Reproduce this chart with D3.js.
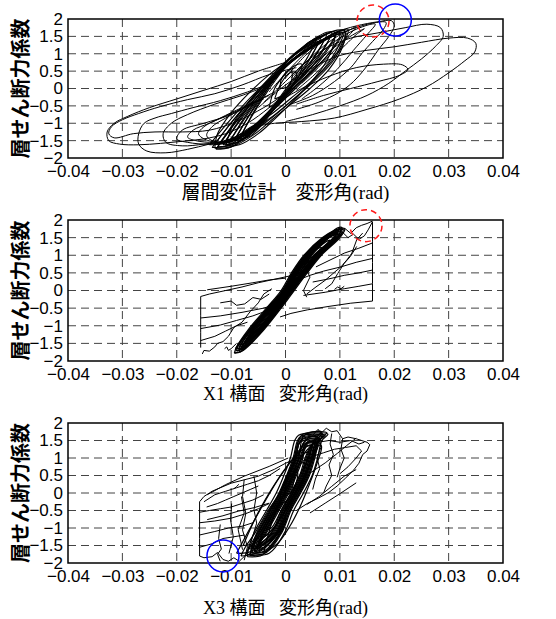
<!DOCTYPE html>
<html>
<head>
<meta charset="utf-8">
<script src="https://cdn.jsdelivr.net/npm/d3@7"></script>
<style>
body { margin: 0; background: #fff; }
svg { display: block; }
.tick text { font-family: "Liberation Sans", Arial, sans-serif; font-size: 17px; fill: #000; }
</style>
</head>
<body>
<svg id="chart" width="556" height="619"></svg>
<script>
var width = 556;
var height = 619;

// axis ticks (rad / coefficient)
var xTicks = [-0.04, -0.03, -0.02, -0.01, 0, 0.01, 0.02, 0.03, 0.04];
var xTickLabels = ['\u22120.04', '\u22120.03', '\u22120.02', '\u22120.01', '0', '0.01', '0.02', '0.03', '0.04'];
var yTicks = [2, 1.5, 1, 0.5, 0, -0.5, -1, -1.5, -2];
var yTickLabels = ['2', '1.5', '1', '0.5', '0', '\u22120.5', '\u22121', '\u22121.5', '\u22122'];
var yTitle = '層せん断力係数';
var xTitles = ['層間変位計\u3000変形角(rad)', 'X1 構面 \u2002変形角(rad)', 'X3 構面 \u2002変形角(rad)'];

/****************************
 * loops, x in 1/1000 rad
 ****************************/
// panel 1 : 層間変位計
var p1Core = [
	[[-13.5,-1.7],[-10.5,-1.63],[-6.5,-1.22],[-2.2,-0.78],[1.5,-0.3],[5.2,0.2],[9,0.85],[11.5,1.7],[9.8,1.63],[6.5,1.36],[2,0.92],[-2.2,0.34],[-6,-0.27],[-9.8,-0.95],[-13.5,-1.7]],
	[[-13,-1.6],[-10.2,-1.54],[-6.4,-1.15],[-2.4,-0.57],[1.1,-0.05],[4.6,0.46],[8.2,1.04],[10.5,1.62],[8.9,1.56],[5.8,1.3],[1.6,0.88],[-2.4,0.33],[-6,-0.25],[-9.5,-0.89],[-13,-1.6]],
	[[-12.5,-1.68],[-9.8,-1.62],[-6.2,-1.23],[-2.4,-0.65],[1,-0.13],[4.4,0.39],[7.8,0.97],[10,1.55],[8.4,1.49],[5.5,1.23],[1.5,0.81],[-2.4,0.26],[-5.7,-0.32],[-9.1,-0.97],[-12.5,-1.68]],
	[[-12,-1.55],[-9.4,-1.49],[-6,-1.1],[-2.3,-0.53],[0.9,-0.01],[4.1,0.5],[7.3,1.07],[9.5,1.65],[8,1.59],[5.2,1.33],[1.3,0.91],[-2.3,0.37],[-5.5,-0.21],[-8.8,-0.85],[-12,-1.55]],
	[[-11.5,-1.62],[-9,-1.56],[-5.8,-1.18],[-2.3,-0.62],[0.8,-0.12],[3.9,0.38],[7,0.94],[9,1.5],[7.6,1.44],[4.9,1.19],[1.2,0.78],[-2.3,0.25],[-5.3,-0.31],[-8.4,-0.93],[-11.5,-1.62]],
	[[-11,-1.5],[-8.7,-1.44],[-5.5,-1.07],[-2.2,-0.51],[0.7,-0.01],[3.6,0.48],[6.5,1.04],[8.5,1.6],[7.1,1.54],[4.6,1.29],[1.1,0.89],[-2.2,0.36],[-5.1,-0.2],[-8.1,-0.82],[-11,-1.5]],
	[[-10.5,-1.58],[-8.3,-1.52],[-5.3,-1.16],[-2.2,-0.61],[0.6,-0.13],[3.4,0.36],[6.1,0.9],[8,1.45],[6.7,1.39],[4.3,1.15],[1,0.75],[-2.2,0.24],[-5,-0.31],[-7.7,-0.91],[-10.5,-1.58]],
	[[-10,-1.45],[-7.9,-1.39],[-5.1,-1.03],[-2.1,-0.49],[0.5,-0.01],[3.1,0.47],[5.7,1.01],[7.5,1.55],[6.3,1.49],[4,1.25],[0.8,0.86],[-2.1,0.35],[-4.7,-0.19],[-7.4,-0.79],[-10,-1.45]],
	[[-9.5,-1.5],[-7.5,-1.44],[-4.9,-1.09],[-2.1,-0.57],[0.4,-0.11],[2.9,0.36],[5.3,0.88],[7,1.4],[5.8,1.34],[3.7,1.11],[0.7,0.73],[-2.1,0.24],[-4.5,-0.28],[-7,-0.86],[-9.5,-1.5]],
	[[-9,-1.4],[-7.1,-1.34],[-4.7,-0.99],[-2,-0.47],[0.3,-0.01],[2.6,0.46],[4.9,0.98],[6.5,1.5],[5.4,1.44],[3.4,1.21],[0.6,0.83],[-2,0.34],[-4.3,-0.18],[-6.7,-0.76],[-9,-1.4]],
	[[-8.5,-1.45],[-6.7,-1.39],[-4.4,-1.06],[-1.9,-0.55],[0.2,-0.11],[2.4,0.34],[4.5,0.85],[6,1.35],[5,1.29],[3.1,1.07],[0.5,0.71],[-1.9,0.23],[-4.1,-0.27],[-6.3,-0.83],[-8.5,-1.45]],
	[[-8,-1.3],[-6.4,-1.25],[-4.2,-0.92],[-1.9,-0.44],[0.1,0],[2.1,0.43],[4.1,0.91],[5.5,1.4],[4.5,1.35],[2.8,1.13],[0.3,0.78],[-1.9,0.32],[-3.9,-0.17],[-6,-0.71],[-8,-1.3]],
	[[-14,-1.62],[-11,-1.56],[-7,-1.17],[-2.7,-0.75],[1,-0.28],[4.7,0.2],[8.5,0.8],[11,1.6],[9.2,1.54],[6,1.28],[1.5,0.86],[-2.7,0.31],[-6.5,-0.27],[-10.2,-0.91],[-14,-1.62]],
	[[-12.8,-1.75],[-10,-1.68],[-6.2,-1.27],[-2.2,-0.8],[1.4,-0.32],[4.9,0.2],[8.4,0.85],[10.8,1.68],[9.2,1.61],[6.1,1.34],[1.8,0.89],[-2.2,0.31],[-5.7,-0.31],[-9.3,-0.99],[-12.8,-1.75]],
	[[-13,-1.72],[-10,-1.68],[-6,-1.35],[-2.5,-0.9],[1,-0.45],[4.5,0.0],[8,0.55],[10.5,1.2],[11,1.65],[9.5,1.68],[6.5,1.5],[3,1.15],[0,0.75],[-3,0.4],[-6.5,-0.1],[-10,-0.7],[-12.5,-1.3],[-13,-1.72]],
	[[-11,-1.65],[-8.5,-1.62],[-5,-1.3],[-1.8,-0.85],[1.5,-0.35],[4.5,0.15],[7.2,0.7],[8.8,1.25],[9,1.62],[7.6,1.62],[5,1.4],[2,1.05],[-0.8,0.65],[-3.6,0.2],[-6.6,-0.35],[-9.4,-0.95],[-11,-1.65]],
	[[-3,-0.55],[-1,-0.35],[1,0.0],[2.6,0.4],[3,0.7],[1.6,0.65],[-0.4,0.35],[-2,0.0],[-3,-0.55]],
	[[-2,-0.3],[0,-0.15],[1.5,0.15],[2,0.45],[0.8,0.45],[-0.8,0.15],[-2,-0.3]],
	[[-1,0.0],[0.4,0.05],[1.2,0.3],[1,0.55],[0,0.45],[-0.8,0.25],[-1,0.0]]
];
var p1Fan = [
	[[-4,-0.3],[-9,-0.65],[-14,-1.0],[-17,-1.2],[-18,-1.4],[-16.5,-1.5],[-13,-1.55],[-9,-1.45],[-5,-1.0],[-2,-0.55]],
	[[-3,-0.2],[-8,-0.55],[-12,-0.85],[-15,-1.1],[-16,-1.3],[-15,-1.45],[-12,-1.55],[-8,-1.35],[-4,-0.85]],
	[[-2,-0.1],[-7,-0.5],[-11,-0.85],[-13.5,-1.1],[-14.5,-1.35],[-13.5,-1.5],[-10.5,-1.55],[-7,-1.3],[-3.5,-0.75]],
	[[-5,-0.35],[-10,-0.75],[-15,-1.0],[-19,-1.2],[-20,-1.45],[-18,-1.55],[-14,-1.6],[-10,-1.5],[-6,-1.1]],
	[[2,0.2],[6,0.8],[10,1.3],[13,1.6],[14.5,1.72],[13,1.55],[11,1.25],[8,0.8],[5,0.35],[2,-0.05]],
	[[1,0.3],[5,0.95],[9,1.45],[12,1.7],[13,1.78],[11.5,1.5],[9,1.1],[6,0.6],[3,0.15]],
	[[3,0.5],[7,1.1],[11,1.55],[15,1.82],[16.5,1.85],[15,1.55],[12.5,1.1],[9.5,0.55],[6,0.05],[3,-0.3]]
];
var p1Big = [
	[[2,0.6],[-3,0.4],[-8,0.1],[-13,-0.15],[-18,-0.32],[-23,-0.52],[-27,-0.72],[-30,-0.9],[-32,-1.1],[-32.5,-1.3],[-31.5,-1.42],[-28,-1.3],[-24,-1.25],[-19,-1.25],[-14,-1.2],[-9,-0.95],[-4,-0.55],[0,-0.15]],
	[[0,0.75],[-5,0.5],[-10,0.2],[-15,-0.05],[-20,-0.3],[-25,-0.55],[-29,-0.8],[-31.5,-1.0],[-32.8,-1.25],[-32.5,-1.5],[-30.5,-1.6],[-27,-1.62],[-23,-1.58],[-19,-1.52],[-15,-1.45],[-11,-1.3],[-7,-1.0],[-3,-0.55],[1,0]],
	[[-2,0.2],[-7,-0.1],[-12,-0.35],[-17,-0.55],[-21,-0.72],[-24,-0.85],[-26,-1.0],[-27,-1.3],[-27,-1.6],[-25.5,-1.8],[-22,-1.85],[-18,-1.75],[-14,-1.6],[-10,-1.45],[-6,-1.1],[-2,-0.6]],
	[[-3,0.1],[-8,-0.2],[-13,-0.45],[-18,-0.75],[-21,-1.0],[-22.5,-1.3],[-22,-1.55],[-19,-1.65],[-15,-1.6],[-11,-1.5],[-7,-1.2],[-3,-0.7]],
	[[-5,-0.55],[0,0.1],[5,0.6],[10,0.95],[15,1.1],[20,1.2],[25,1.33],[30,1.45],[33.5,1.45],[35,1.3],[34.8,1.05],[33,0.8],[30,0.45],[26,0.05],[21,-0.3],[15,-0.6],[9,-0.85],[3,-0.95],[-2,-1.0],[-6,-1.1]],
	[[-4,-0.4],[0,0.2],[4,0.8],[8,1.2],[12,1.45],[17,1.6],[22,1.75],[26,1.85],[28.5,1.75],[29,1.5],[27.5,1.2],[25,0.85],[22,0.5],[19,0.15],[15,-0.2],[10,-0.5],[5,-0.75],[0,-0.95]],
	[[-3,-0.1],[1,0.6],[5,1.2],[9,1.6],[13,1.8],[17,1.92],[19.5,1.95],[20,1.8],[19,1.5],[17,1.1],[15,0.65],[12.5,0.2],[10,-0.1],[6,-0.4],[2,-0.6]],
	[[0,0.3],[4,1.0],[8,1.45],[12,1.7],[16,1.88],[18.5,1.9],[18,1.7],[16,1.35],[14,1.0],[12,0.6],[9,0.2],[5,-0.2],[1,-0.45]],
	[[-2,-0.45],[3,0.0],[8,0.35],[13,0.6],[18,0.7],[21.5,0.68],[22.5,0.55],[21,0.38],[17,0.2],[12,0.0],[7,-0.2],[2,-0.45]]
];

// panel 2 : X1 構面
var p2Core = [
	[[-9,-1.72],[-7.2,-1.6],[-4.1,-1.1],[-1,-0.5],[1.4,0],[3.8,0.5],[6.4,1.0],[9.8,1.5],[10.6,1.72],[9.4,1.72],[7,1.5],[3.6,1.0],[1.3,0.5],[-0.6,0],[-3.3,-0.5],[-6.6,-1.1],[-8.8,-1.6],[-9,-1.72]],
	[[-8.6,-1.68],[-7.4,-1.6],[-4.4,-1.1],[-1.3,-0.5],[1.1,0],[3.5,0.5],[6.1,1.0],[9.5,1.5],[10.2,1.7],[9.2,1.68],[7.3,1.5],[3.9,1.0],[1.6,0.5],[-0.3,0],[-3,-0.5],[-6.3,-1.1],[-8.5,-1.6],[-8.6,-1.68]],
	[[-8.2,-1.62],[-7.6,-1.58],[-4.7,-1.1],[-1.6,-0.5],[0.8,0],[3.2,0.5],[5.8,1.0],[9.2,1.5],[9.6,1.62],[8.8,1.6],[7.6,1.5],[4.2,1.0],[1.9,0.5],[0,0],[-2.7,-0.5],[-6,-1.1],[-8.2,-1.62]],
	[[-7.6,-1.5],[-7.2,-1.45],[-5,-1.1],[-1.9,-0.5],[0.5,0],[2.9,0.5],[5.5,1.0],[8.6,1.45],[9,1.55],[8.2,1.52],[4.5,1.0],[2.2,0.5],[0.3,0],[-2.4,-0.5],[-5.7,-1.1],[-7.6,-1.5]],
	[[-7,-1.42],[-6.6,-1.38],[-5.3,-1.1],[-2.2,-0.5],[0.2,0],[2.6,0.5],[5.2,1.0],[7.8,1.35],[8.2,1.42],[7.4,1.38],[4.8,1.0],[2.5,0.5],[0.6,0],[-2.1,-0.5],[-5.4,-1.1],[-7,-1.42]],
	[[-6.2,-1.25],[-5.2,-1.15],[-1.4,-0.5],[1,0],[3.4,0.5],[5.8,1.0],[6.8,1.2],[6,1.2],[4,1.0],[1.7,0.5],[-0.2,0],[-2.9,-0.5],[-5.6,-1.0],[-6.2,-1.25]],
	[[-5,-1.0],[-4.2,-0.95],[-1.7,-0.5],[0.7,0],[3.1,0.5],[5.2,0.9],[5.6,0.95],[4.8,0.95],[2,0.5],[0.1,0],[-2.6,-0.5],[-4.6,-0.9],[-5,-1.0]],
	[[-9.4,-1.78],[-8,-1.72],[-7,-1.6],[-3.9,-1.1],[-0.8,-0.5],[1.6,0],[4,0.5],[6.6,1.0],[10,1.5],[10.9,1.75],[10,1.76],[9.2,1.72],[6.8,1.5],[3.4,1.0],[1.1,0.5],[-0.8,0],[-3.5,-0.5],[-6.8,-1.1],[-9,-1.6],[-9.4,-1.78]],
	[[-8,-1.65],[-7.4,-1.55],[-5.1,-1.1],[-2,-0.5],[0.4,0],[2.8,0.5],[5.4,1.0],[8.8,1.5],[9.8,1.68],[9,1.62],[8,1.5],[4.6,1.0],[2.3,0.5],[0.4,0],[-2.3,-0.5],[-5.6,-1.1],[-7.8,-1.55],[-8,-1.65]],
	[[-8.8,-1.55],[-7.4,-1.5],[-4.25,-1.1],[-1.15,-0.5],[1.25,0],[3.65,0.5],[6.25,1.0],[9.65,1.5],[9.9,1.6],[9,1.58],[7.15,1.5],[3.75,1.0],[1.45,0.5],[-0.45,0],[-3.15,-0.5],[-6.45,-1.1],[-8.8,-1.55]],
	[[-8.4,-1.75],[-7.65,-1.65],[-4.55,-1.1],[-1.45,-0.5],[0.95,0],[3.35,0.5],[5.95,1.0],[9.35,1.5],[10.4,1.78],[9.6,1.78],[7.45,1.5],[4.05,1.0],[1.75,0.5],[-0.15,0],[-2.85,-0.5],[-6.15,-1.1],[-8.35,-1.6],[-8.4,-1.75]],
	[[-7.8,-1.7],[-7.9,-1.6],[-4.85,-1.1],[-1.75,-0.5],[0.65,0],[3.05,0.5],[5.65,1.0],[9.05,1.5],[9.4,1.7],[8.6,1.65],[7.75,1.5],[4.35,1.0],[2.05,0.5],[0.15,0],[-2.55,-0.5],[-5.85,-1.1],[-7.8,-1.7]],
	[[-7.4,-1.6],[-6.9,-1.52],[-4.6,-1.1],[-1.5,-0.5],[0.9,0],[3.3,0.5],[5.9,1.0],[8.9,1.45],[9.2,1.58],[8.4,1.55],[7.6,1.45],[4.1,1.0],[1.8,0.5],[-0.1,0],[-2.8,-0.5],[-6.1,-1.1],[-7.4,-1.6]],
	[[-9.2,-1.65],[-7.8,-1.62],[-4.3,-1.1],[-1.2,-0.5],[1.2,0],[3.6,0.5],[6.2,1.0],[9.6,1.5],[10.4,1.65],[9.6,1.66],[7.2,1.5],[3.8,1.0],[1.5,0.5],[-0.4,0],[-3.1,-0.5],[-6.4,-1.1],[-9.2,-1.65]],
	[[-3,-0.75],[-1.5,-0.5],[0.3,-0.15],[2.2,0.25],[3.5,0.55],[2.4,0.5],[0.6,0.15],[-1.2,-0.25],[-3,-0.75]]
];
var p2Edge = [
	[[4,0.55],[1,0.42],[-2,0.32],[-5,0.22],[-8,0.1],[-11,0.0],[-14,-0.1],[-15.6,-0.17],[-15.6,-0.7],[-15.6,-1.2],[-15.6,-1.62]],
	[[16,1.95],[16,1.4],[16,0.8],[16,0.2],[16,-0.3],[12,-0.36],[8,-0.45],[4,-0.55],[1,-0.65],[-1,-0.75]],
	[[-15.6,-0.78],[-12,-0.72],[-8,-0.62],[-4,-0.5],[-1,-0.35]],
	[[-15.6,-1.08],[-12,-0.98],[-9,-0.85],[-6,-0.72],[-3,-0.55]],
	[[-15.6,-1.42],[-13,-1.3],[-11,-1.15],[-9,-1.0],[-7,-0.9]],
	[[-15.3,-1.8],[-15,-1.7],[-14,-1.72],[-13,-1.6],[-12.5,-1.5],[-11.5,-1.45],[-10.5,-1.3],[-9.5,-1.05],[-8,-0.9],[-6.5,-0.6],[-5,-0.35],[-4,-0.1],[-2.5,0.05]],
	[[-12,-0.35],[-10,-0.3],[-9,-0.42],[-7.5,-0.38],[-6,-0.2],[-4.5,-0.25],[-3,-0.1]],
	[[-14.4,0.02],[-10,0.12],[-6,0.22],[-3,0.3],[0,0.35]],
	[[-11.2,-1.65],[-10.8,-1.6],[-10.5,-1.7],[-10,-1.65],[-9,-1.5]],
	[[10,1.72],[11,1.75],[12,1.62],[13,1.78],[14,1.85],[15,1.9],[16,1.97]],
	[[10.5,1.65],[11.5,1.5],[12.5,1.6],[13.5,1.45],[14.5,1.55],[15.2,1.72],[16,1.95]],
	[[16,1.35],[13.5,1.2],[10.8,1.06],[8,0.85],[5.6,0.67]],
	[[16,0.91],[13,0.8],[10.2,0.67],[7,0.55],[4.5,0.43],[0.5,0.19]],
	[[16,0.58],[13.5,0.5],[10.8,0.43],[8,0.33],[5,0.24]],
	[[16,0.19],[13.5,0.12],[10.8,0.05],[7.3,-0.05],[3.3,-0.14]],
	[[13.1,1.25],[11.9,0.96],[10.8,0.77],[9.6,0.48],[8.5,0.19],[7.3,0.05]],
	[[14.2,1.63],[13.1,1.44],[12.2,1.06],[11.3,0.87],[10.2,0.67],[9.1,0.53],[7.3,0.29],[5.6,0.1],[3.9,-0.1]],
	[[3.9,0.58],[4.5,0.38],[3.3,0.0],[3.9,-0.19]],
	[[9,0.03],[9.6,0.1],[10.2,0.05],[10.8,0.12]]
];

// panel 3 : X3 構面
var p3Core = [
	[[-6.6,-1.78],[-3.5,-1.7],[-0.7,-1.14],[1,-0.5],[2.8,0],[4.4,0.5],[5.4,1.0],[6.2,1.5],[7.3,1.65],[5,1.68],[2.8,1.62],[2.2,1.5],[1.4,1.0],[0.2,0.5],[-1.2,0],[-3,-0.5],[-5.3,-1.14],[-6.6,-1.78]],
	[[-6.2,-1.72],[-3.9,-1.66],[-1.1,-1.14],[0.6,-0.5],[2.4,0],[4,0.5],[5,1.0],[5.8,1.45],[6.8,1.6],[4.8,1.62],[3.2,1.56],[2.6,1.45],[1.8,1.0],[0.6,0.5],[-0.8,0],[-2.6,-0.5],[-4.9,-1.14],[-6.2,-1.72]],
	[[-5.8,-1.65],[-4.2,-1.58],[-1.5,-1.14],[0.2,-0.5],[2,0],[3.6,0.5],[4.6,1.0],[5.4,1.4],[6.2,1.55],[4.6,1.56],[3.4,1.45],[2.2,1.0],[1,0.5],[-0.4,0],[-2.2,-0.5],[-4.5,-1.14],[-5.8,-1.65]],
	[[-5.4,-1.6],[-4.4,-1.52],[-1.9,-1.14],[-0.2,-0.5],[1.6,0],[3.2,0.5],[4.2,1.0],[5,1.38],[5.6,1.5],[4.4,1.5],[3.6,1.38],[2.6,1.0],[1.4,0.5],[0,0],[-1.8,-0.5],[-4.1,-1.14],[-5.4,-1.6]],
	[[-5,-1.5],[-4.4,-1.42],[-2.3,-1.14],[-0.6,-0.5],[1.2,0],[2.8,0.5],[3.8,1.0],[4.6,1.32],[5,1.42],[4.2,1.42],[3.6,1.3],[3,1.0],[1.8,0.5],[0.4,0],[-1.4,-0.5],[-3.7,-1.14],[-5,-1.5]],
	[[-7,-1.82],[-4.6,-1.8],[-3.7,-1.7],[-0.9,-1.14],[0.8,-0.5],[2.6,0],[4.2,0.5],[5.2,1.0],[6,1.5],[7.6,1.72],[5.4,1.75],[3.2,1.68],[2.4,1.5],[1.6,1.0],[0.4,0.5],[-1,0],[-2.8,-0.5],[-5.1,-1.14],[-6.8,-1.6],[-7,-1.82]],
	[[-6.4,-1.55],[-4.6,-1.5],[-1.3,-1.14],[0.4,-0.5],[2.2,0],[3.8,0.5],[4.8,1.0],[5.8,1.32],[6.5,1.4],[5,1.45],[3.6,1.42],[2,1.0],[0.8,0.5],[-0.6,0],[-2.4,-0.5],[-4.7,-1.14],[-6.4,-1.55]],
	[[-4.6,-1.3],[-3.4,-1.2],[-1.7,-0.9],[-0.4,-0.5],[1.4,0],[3,0.5],[4,0.95],[4.4,1.15],[3.6,1.15],[2.4,0.95],[1.2,0.5],[-0.2,0],[-2,-0.5],[-3.6,-0.95],[-4.6,-1.3]],
	[[-3.6,-1.05],[-2.6,-1.0],[-0.8,-0.5],[1,0],[2.6,0.5],[3.6,0.85],[2.8,0.85],[1.6,0.5],[0.2,0],[-1.6,-0.5],[-3,-0.9],[-3.6,-1.05]],
	[[-6.8,-1.6],[-4.5,-1.52],[-1.7,-1.14],[0,-0.5],[1.8,0],[3.4,0.5],[4.4,1.0],[5.2,1.5],[6.6,1.75],[4.4,1.72],[3.2,1.6],[2.4,1.0],[1.2,0.5],[-0.2,0],[-2,-0.5],[-4.3,-1.14],[-6.8,-1.6]],
	[[-8.2,-1.8],[-6,-1.75],[-4,-1.6],[-1.5,-1.14],[0.4,-0.5],[2.2,0],[3.8,0.5],[4.8,1.0],[5.6,1.5],[6.8,1.7],[4.6,1.6],[2.8,1.5],[1.8,1.0],[0.6,0.5],[-1,0],[-3.2,-0.5],[-5.6,-1.14],[-7.4,-1.55],[-8.2,-1.8]],
	[[-9,-1.72],[-6.5,-1.68],[-3.5,-1.3],[-1,-0.75],[1,-0.2],[3,0.35],[4.8,0.9],[6,1.4],[5,1.5],[3,1.3],[1,0.9],[-1.5,0.35],[-4,-0.3],[-6.5,-1.0],[-9,-1.72]],
	[[-7.8,-1.5],[-5.5,-1.42],[-2.5,-1.05],[0,-0.5],[2,0.05],[3.8,0.6],[5.2,1.2],[4.4,1.35],[2.4,1.15],[0.2,0.75],[-2.4,0.15],[-5,-0.55],[-7.8,-1.5]],
	[[-4,-1.7],[-1.5,-1.45],[0.8,-0.95],[2.8,-0.35],[4.4,0.25],[5.8,0.85],[6.6,1.35],[5.6,1.45],[3.8,1.2],[2,0.7],[0.2,0.1],[-2,-0.6],[-4,-1.7]],
	[[-7.2,-1.75],[-3,-1.72],[-0.2,-1.14],[1.5,-0.5],[3.3,0],[4.9,0.5],[5.9,1.0],[6.7,1.5],[7.8,1.68],[5.2,1.72],[2.4,1.65],[1.7,1.5],[0.9,1.0],[-0.3,0.5],[-1.7,0],[-3.5,-0.5],[-5.8,-1.14],[-7.2,-1.75]],
	[[-6.4,-1.7],[-3.7,-1.68],[-0.9,-1.14],[0.8,-0.5],[2.6,0],[4.2,0.5],[5.2,1.0],[6,1.48],[7,1.62],[4.9,1.65],[3,1.58],[2.4,1.48],[1.6,1.0],[0.4,0.5],[-1,0],[-2.8,-0.5],[-5.1,-1.14],[-6.4,-1.7]],
	[[-6,-1.58],[-4,-1.55],[-1.3,-1.14],[0.4,-0.5],[2.2,0],[3.8,0.5],[4.8,1.0],[5.6,1.4],[6.4,1.5],[4.7,1.55],[3.3,1.5],[2.4,1.4],[2,1.0],[0.8,0.5],[-0.6,0],[-2.4,-0.5],[-4.7,-1.14],[-6,-1.58]],
	[[-5.6,-1.68],[-4.3,-1.6],[-1.7,-1.14],[0,-0.5],[1.8,0],[3.4,0.5],[4.4,1.0],[5.2,1.45],[5.9,1.6],[4.5,1.6],[3.4,1.45],[2.4,1.0],[1.2,0.5],[-0.2,0],[-2,-0.5],[-4.3,-1.14],[-5.6,-1.68]],
	[[-5.2,-1.55],[-4.4,-1.48],[-2.1,-1.14],[-0.4,-0.5],[1.4,0],[3,0.5],[4,1.0],[4.8,1.35],[5.3,1.45],[4.3,1.46],[3.6,1.35],[2.8,1.0],[1.6,0.5],[0.2,0],[-1.6,-0.5],[-3.9,-1.14],[-5.2,-1.55]],
	[[-4.8,-1.45],[-4.2,-1.4],[-2.5,-1.14],[-0.8,-0.5],[1,0],[2.6,0.5],[3.6,1.0],[4.4,1.28],[4.8,1.35],[4,1.35],[3.4,1.2],[3.2,1.0],[2,0.5],[0.6,0],[-1.2,-0.5],[-3.5,-1.14],[-4.8,-1.45]],
	[[-0.2,-0.1],[0.8,0.0],[1.5,0.3],[1.6,0.55],[0.9,0.5],[0.1,0.25],[-0.2,-0.1]],
	[[-1,-0.3],[0.5,-0.2],[1.8,0.2],[2.2,0.6],[1.2,0.7],[0,0.4],[-0.8,0.05],[-1,-0.3]]
];
var p3Edge = [
	[[3,1.05],[0,0.85],[-2,0.68],[-5,0.48],[-8,0.36],[-10,0.28],[-12,0.15],[-13.5,0.05],[-15,-0.1],[-15.8,-0.25],[-15.8,-0.8],[-15.8,-1.3],[-15.8,-1.8]],
	[[-15.8,-1.8],[-15,-1.85],[-13.5,-1.82],[-12.5,-1.7],[-11.5,-1.9],[-10.5,-1.95],[-9.5,-1.85],[-8.5,-1.95],[-7.5,-1.8],[-6,-1.7],[-4.5,-1.55]],
	[[-15.8,-0.55],[-14,-0.5],[-12,-0.45],[-10,-0.4],[-8,-0.3],[-6,-0.2],[-4,-0.05]],
	[[-15.8,-0.85],[-13,-0.8],[-10,-0.72],[-7.5,-0.6],[-5,-0.45],[-3,-0.3]],
	[[-15.8,-1.2],[-13,-1.1],[-10.5,-1.0],[-8,-0.95],[-6,-0.85]],
	[[-15.8,-1.55],[-13.5,-1.45],[-11.5,-1.3],[-9.5,-1.25],[-7.5,-1.2]],
	[[-15,-0.25],[-13,-0.05],[-11,0.05],[-9,0.15],[-7,0.25],[-5,0.35],[-3,0.5],[-1,0.7]],
	[[-14.5,-0.4],[-12.5,-0.3],[-11,-0.2],[-9.5,-0.1],[-8,0.0],[-6.5,0.1],[-5,0.2]],
	[[-14.4,-0.05],[-11,0.24],[-7.6,0.48],[-3,0.76],[0.5,1.0]],
	[[-14.4,-0.76],[-11.5,-0.65],[-8.7,-0.52],[-5.8,-0.42],[-3,-0.29]],
	[[-9.5,0.12],[-9,0.18],[-8.6,0.25]],
	[[-7.6,0.38],[-7.9,-0.1],[-7.3,-0.58],[-7.9,-1.06],[-7.0,-1.54],[-7.6,-1.92]],
	[[-9.9,-0.3],[-10.1,-0.77],[-9.6,-1.25],[-10.4,-1.73]],
	[[-5.8,0.48],[-5.3,0.0],[-5.8,-0.48],[-5.3,-0.86],[-6.4,-1.43]],
	[[-8.1,-0.1],[-7.6,-0.57],[-8.7,-1.05],[-7.9,-1.62]],
	[[-12,-0.9],[-12.3,-1.3],[-11.8,-1.6],[-12.5,-1.75],[-12,-1.95]],
	[[3,1.6],[4,1.7],[5,1.65],[6,1.82],[6.5,1.7],[7.5,1.85],[8.5,1.75],[9.5,1.78],[10.5,1.55],[11.5,1.6],[13,1.55],[14,1.5],[15,1.45],[15.5,1.38]],
	[[15.5,1.38],[15,1.2],[14.2,1.1],[13.5,0.85],[12.5,0.65],[11,0.42],[9.5,0.2],[8,0.02],[6,-0.15],[4,-0.3],[2,-0.5]],
	[[4,1.35],[6,1.45],[8,1.5],[10,1.45],[12,1.5],[13.5,1.4],[14.5,1.45]],
	[[3,0.9],[5,1.05],[7,1.15],[9,1.25],[11,1.3],[13,1.35],[14,1.2],[13,1.0],[11.5,0.75],[10,0.55]],
	[[13,1.57],[11.2,1.35],[9.6,1.14],[7.3,0.86],[4.5,0.57]],
	[[13,0.67],[10.8,0.48],[8.5,0.19],[6.2,-0.1],[3.9,-0.33]],
	[[13,0.29],[10.2,0.0],[7.3,-0.29],[4.5,-0.57]],
	[[8.5,1.7],[8.2,1.4],[8.8,1.1],[8.0,0.8],[8.5,0.5],[7.5,0.2],[7,0.0]],
	[[6.2,1.6],[6.5,1.3],[5.8,1.0],[6.3,0.7],[5.5,0.4],[5.0,0.1]],
	[[10.5,1.55],[10.2,1.25],[10.8,1.0],[10,0.7],[9.5,0.45]]
];

// highlighted points (panel, rad, coefficient)
var redMarks = [[0, 0.0161, 1.94], [1, 0.0148, 1.84]];
var blueMarks = [[0, 0.0202, 1.97], [2, -0.0115, -1.8]];

/****************************
 * layout
 ****************************/
var plotLeft = 68, plotRight = 503;
var panelTops = [19, 220, 423];
var panelHeights = [139, 141, 140];
var titleY = [199, 400, 614];
var titleSize = [19, 18, 18];
var coreWidth = [1.1, 1.3, 1.2];

var svg = d3.select('#chart');

var x = d3.scaleLinear().domain([-0.04, 0.04]).range([plotLeft, plotRight]);

var smooth = d3.line().curve(d3.curveCatmullRom.alpha(0.5));
var rough = d3.line();

function toRad(loop) {
	return loop.map(function(d) { return [d[0] / 1000, d[1]]; });
}

var panelSets = [
	{ core: p1Core, smooth: p1Fan.concat(p1Big), rough: [] },
	{ core: p2Core, smooth: [], rough: p2Edge },
	{ core: p3Core, smooth: [], rough: p3Edge }
];

panelSets.forEach(function(set, i) {
	var top = panelTops[i], h = panelHeights[i];
	var y = d3.scaleLinear().domain([-2, 2]).range([top + h, top]);
	var g = svg.append('g');

	g.append('clipPath').attr('id', 'clip' + i)
		.append('rect').attr('x', plotLeft).attr('y', top)
		.attr('width', plotRight - plotLeft).attr('height', h);

	// grid
	g.selectAll('.gx').data(xTicks.slice(1, -1)).enter().append('line')
		.attr('x1', function(d) { return x(d); }).attr('x2', function(d) { return x(d); })
		.attr('y1', top).attr('y2', top + h)
		.attr('stroke', '#444').attr('stroke-width', 1).attr('stroke-dasharray', '8,5');
	g.selectAll('.gy').data(yTicks.slice(1, -1)).enter().append('line')
		.attr('y1', function(d) { return y(d); }).attr('y2', function(d) { return y(d); })
		.attr('x1', plotLeft).attr('x2', plotRight)
		.attr('stroke', '#444').attr('stroke-width', 1).attr('stroke-dasharray', '8,5');

	// curves
	function pts(d) { return toRad(d).map(function(p) { return [x(p[0]), y(p[1])]; }); }
	var cg = g.append('g').attr('clip-path', 'url(#clip' + i + ')')
		.attr('fill', 'none').attr('stroke', '#000');
	cg.selectAll('.c').data(set.core).enter().append('path')
		.attr('d', function(d) { return smooth(pts(d)); })
		.attr('stroke-width', coreWidth[i]);
	cg.selectAll('.s').data(set.smooth).enter().append('path')
		.attr('d', function(d) { return smooth(pts(d)); })
		.attr('stroke-width', 1);
	cg.selectAll('.r').data(set.rough).enter().append('path')
		.attr('d', function(d) { return rough(pts(d)); })
		.attr('stroke-width', 1);

	// frame
	g.append('rect').attr('x', plotLeft).attr('y', top)
		.attr('width', plotRight - plotLeft).attr('height', h)
		.attr('fill', 'none').attr('stroke', '#000').attr('stroke-width', 1.5);

	// axes
	var xa = g.append('g').attr('transform', 'translate(0,' + (top + h) + ')')
		.call(d3.axisBottom(x).tickValues(xTicks).tickSize(0).tickPadding(7)
			.tickFormat(function(d, k) { return xTickLabels[k]; }));
	xa.select('.domain').remove();
	var ya = g.append('g').attr('transform', 'translate(' + plotLeft + ',0)')
		.call(d3.axisLeft(y).tickValues(yTicks).tickSize(0).tickPadding(5)
			.tickFormat(function(d, k) { return yTickLabels[k]; }));
	ya.select('.domain').remove();

	// titles
	g.append('text')
		.attr('transform', 'translate(21,' + (top + h / 2) + ') rotate(-90)')
		.attr('text-anchor', 'middle').attr('dy', '0.35em')
		.style('font-family', '"Noto Sans CJK JP", sans-serif').style('font-size', '20px')
		.style('font-weight', 'bold')
		.text(yTitle);
	g.append('text')
		.attr('x', (plotLeft + plotRight) / 2).attr('y', titleY[i])
		.attr('text-anchor', 'middle')
		.style('font-family', '"Liberation Serif", "Noto Sans CJK JP", serif').style('font-size', titleSize[i] + 'px')
		.text(xTitles[i]);

	// circles
	g.selectAll('.red').data(redMarks.filter(function(d) { return d[0] === i; })).enter().append('circle')
		.attr('cx', function(d) { return x(d[1]); }).attr('cy', function(d) { return y(d[2]); })
		.attr('r', 16).attr('fill', 'none').attr('stroke', '#ff1a1a')
		.attr('stroke-width', 1.5).attr('stroke-dasharray', '6,4');
	g.selectAll('.blue').data(blueMarks.filter(function(d) { return d[0] === i; })).enter().append('circle')
		.attr('cx', function(d) { return x(d[1]); }).attr('cy', function(d) { return y(d[2]); })
		.attr('r', 16).attr('fill', 'none').attr('stroke', '#0000ff')
		.attr('stroke-width', 1.5);
});
</script>
</body>
</html>
